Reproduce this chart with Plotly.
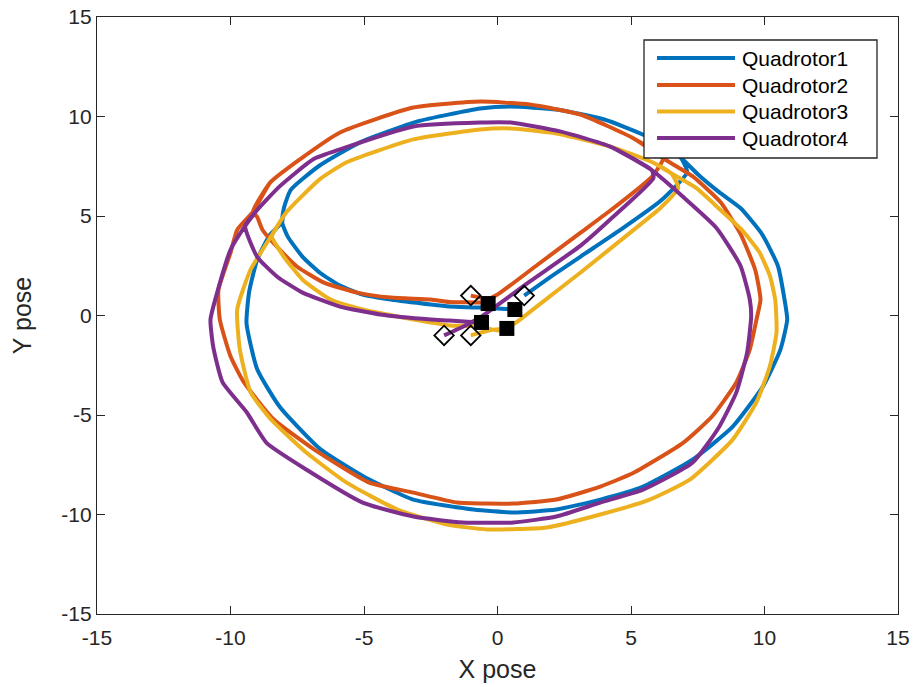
import plotly.graph_objects as go

# ---------------- data ----------------
NAMES = ["Quadrotor1", "Quadrotor2", "Quadrotor3", "Quadrotor4"]
COLORS = ["#0072BD", "#D95319", "#EDB120", "#7E2F8E"]

# Quadrotor1 (blue)
Q1_DIAG = [(1.0, 1.0), (2.0, 1.95), (3.1, 2.95), (4.6, 4.3), (6.1, 5.75), (7.1, 7.2)]
Q1_TOP = [(6.85, 7.95), (5.6, 9.0), (4.0, 9.85), (2.2, 10.35), (0.5, 10.5), (-0.65, 10.4),
          (-3.0, 9.75), (-5.15, 8.7), (-6.7, 7.5), (-7.75, 6.3), (-8.0, 5.4), (-8.07, 4.7)]
Q1_OUTER = [(-8.55, 4.0), (-9.0, 2.8), (-9.3, 1.2), (-9.4, -0.4), (-9.0, -2.7), (-8.15, -4.6),
            (-6.65, -6.7), (-5.0, -8.1), (-3.15, -9.25), (-0.9, -9.75), (0.6, -9.9), (2.2, -9.75),
            (3.85, -9.25), (5.45, -8.6), (7.3, -7.25), (8.8, -5.6), (9.95, -3.55), (10.6, -1.7),
            (10.85, -0.2), (10.75, 0.8), (10.5, 2.5), (9.9, 4.1), (9.1, 5.4), (8.3, 6.2), (7.5, 7.1)]
Q1_INNER = [(-7.85, 3.95), (-7.3, 2.95), (-6.65, 2.15), (-5.9, 1.5), (-5.05, 1.05), (-4.0, 0.8),
            (-2.5, 0.55), (-1.8, 0.45), (-0.65, 0.4), (0.65, 0.3)]

# Quadrotor2 (orange)
Q2_DIAG = [(-1.0, 1.0), (-0.35, 0.85), (0.0, 1.05), (1.5, 2.55), (3.1, 4.15), (4.2, 5.25),
           (5.6, 6.75), (5.8, 7.0)]
Q2_TOP = [(6.2, 7.9), (5.1, 8.9), (3.1, 10.1), (1.2, 10.6), (-0.65, 10.75), (-3.15, 10.45),
          (-5.9, 9.2), (-7.4, 7.85), (-8.5, 6.7), (-9.16, 5.2)]
Q2_OUTER = [(-9.75, 4.3), (-10.0, 3.15), (-10.45, 1.3), (-10.4, -0.2), (-10.0, -2.05), (-9.5, -3.35),
            (-8.4, -5.2), (-6.9, -6.7), (-4.8, -8.4), (-3.15, -8.9), (-1.5, -9.4), (0.6, -9.45),
            (2.2, -9.25), (3.85, -8.6), (5.1, -7.9), (6.95, -6.4), (8.05, -5.05), (8.95, -3.35),
            (9.45, -1.7), (9.7, -0.2), (9.85, 0.8), (9.65, 2.3), (9.1, 4.1), (8.35, 5.7), (7.3, 7.0)]
Q2_INNER = [(-9.0, 4.95), (-8.8, 4.3), (-8.15, 3.3), (-7.5, 2.45), (-6.5, 1.65), (-5.25, 1.15),
            (-4.0, 0.9), (-2.5, 0.8), (-1.8, 0.68), (-0.65, 0.65), (-0.35, 0.6)]

# Quadrotor3 (yellow)
Q3_DIAG = [(-1.0, -1.0), (-0.2, -0.72), (0.35, -0.65), (0.75, -0.3), (1.9, 0.9), (3.1, 2.15),
           (5.1, 4.3), (6.1, 5.4), (6.77, 6.42)]
Q3_TOP = [(6.5, 7.15), (5.8, 7.7), (4.2, 8.5), (2.2, 9.15), (0.5, 9.4), (-0.65, 9.35),
          (-3.15, 8.85), (-5.65, 7.7), (-6.65, 6.85), (-7.9, 5.2), (-8.4, 4.15)]
Q3_OUTER = [(-9.25, 2.3), (-9.75, 0.3), (-9.65, -1.7), (-9.25, -3.85), (-8.5, -5.2), (-7.15, -6.9),
            (-5.65, -8.4), (-3.75, -9.75), (-1.9, -10.5), (-0.4, -10.75), (1.85, -10.65),
            (3.85, -10.0), (5.7, -9.25), (7.2, -8.25), (8.8, -6.25), (9.7, -4.35), (10.2, -2.55),
            (10.45, -0.85), (10.4, 0.8), (10.2, 2.0), (9.8, 3.2), (9.15, 4.3), (8.33, 5.33), (7.45, 6.4)]
Q3_INNER = [(-8.45, 3.95), (-8.0, 2.95), (-7.3, 1.8), (-6.25, 0.8), (-5.05, 0.3), (-3.75, -0.05),
            (-2.5, -0.35), (-1.8, -0.5), (-0.65, -0.55), (0.0, -0.75), (0.35, -0.65)]

# Quadrotor4 (purple)
Q4_DIAG = [(-2.0, -1.0), (-1.2, -0.5), (-0.65, -0.1), (1.2, 1.7), (3.1, 3.5), (4.2, 4.8), (5.84, 6.9)]
Q4_TOP = [(5.78, 7.3), (4.2, 8.5), (2.34, 9.25), (0.5, 9.7), (-0.65, 9.7), (-3.15, 9.5),
          (-5.9, 8.35), (-6.9, 7.85), (-8.15, 6.5), (-9.0, 5.3), (-9.45, 4.5)]
Q4_OUTER = [(-10.0, 3.3), (-10.5, 1.15), (-10.75, -0.2), (-10.65, -1.55), (-10.3, -3.35),
            (-9.4, -4.85), (-8.65, -6.4), (-7.15, -7.75), (-5.05, -9.4), (-3.15, -10.1),
            (-1.3, -10.4), (0.6, -10.4), (2.2, -10.1), (3.85, -9.4), (5.45, -8.75), (7.3, -7.4),
            (8.3, -5.6), (8.95, -3.85), (9.35, -1.85), (9.5, -0.05), (9.45, 0.8), (9.1, 2.5),
            (8.2, 4.4), (7.0, 5.9)]
Q4_INNER = [(-9.0, 2.95), (-8.25, 1.95), (-7.3, 1.15), (-5.9, 0.45), (-4.4, 0.05), (-2.5, -0.2),
            (-1.8, -0.25), (-0.75, -0.35), (-0.6, -0.35)]

START_X = [1.0, -1.0, -1.0, -2.0]
START_Y = [1.0, 1.0, -1.0, -1.0]
END_X = [0.65, -0.35, 0.35, -0.6]
END_Y = [0.3, 0.6, -0.65, -0.35]

TICKS = [-15, -10, -5, 0, 5, 10, 15]
TICK_TEXT = ["-15", "-10", "-5", "0", "5", "10", "15"]

SEGMENTS = [
    (Q1_DIAG, Q1_TOP, Q1_OUTER, Q1_INNER),
    (Q2_DIAG, Q2_TOP, Q2_OUTER, Q2_INNER),
    (Q3_DIAG, Q3_TOP, Q3_OUTER, Q3_INNER),
    (Q4_DIAG, Q4_TOP, Q4_OUTER, Q4_INNER),
]

AX_COLOR = "#262626"
FONT = "Liberation Sans, Arial, Helvetica, sans-serif"

W, H = 913, 687
ML, MR, MT, MB = 97, 15, 17, 73
PW, PH = W - ML - MR, H - MT - MB


def px_x(px):
    return (px - ML) / PW


def px_y(py):
    return (H - MB - py) / PH


fig = go.Figure()
for name, color, (diag, top, outer, inner) in zip(NAMES, COLORS, SEGMENTS):
    path = diag + top + outer + top + inner
    fig.add_trace(go.Scatter(
        x=[p[0] for p in path], y=[p[1] for p in path], mode="lines", name=name,
        showlegend=False, line=dict(color=color, width=4, shape="spline", smoothing=0.5),
        hoverinfo="skip"))

fig.add_trace(go.Scatter(
    x=START_X, y=START_Y, mode="markers", showlegend=False,
    marker=dict(symbol="diamond-open", size=15, color="black", line=dict(width=1.8, color="black"))))
fig.add_trace(go.Scatter(
    x=END_X, y=END_Y, mode="markers", showlegend=False,
    marker=dict(symbol="square", size=15, color="black", line=dict(width=0))))

# legend box drawn as shapes + text (positions in pixels of the frame)
shapes = [dict(type="rect", xref="paper", yref="paper", layer="above",
               x0=px_x(644), x1=px_x(877), y0=px_y(158), y1=px_y(40),
               fillcolor="white", line=dict(color=AX_COLOR, width=1.3))]
annotations = []
ROW_Y = [58, 85, 111.5, 138]
for name, color, ry in zip(NAMES, COLORS, ROW_Y):
    shapes.append(dict(type="line", xref="paper", yref="paper", layer="above",
                       x0=px_x(657), x1=px_x(735), y0=px_y(ry), y1=px_y(ry),
                       line=dict(color=color, width=4)))
    annotations.append(dict(xref="paper", yref="paper", x=px_x(740), y=px_y(ry),
                            xanchor="left", yanchor="middle", showarrow=False, text=name,
                            font=dict(family=FONT, size=21, color="black")))

axis_common = dict(
    range=[-15, 15], tickvals=TICKS, ticktext=TICK_TEXT, showgrid=False, zeroline=False,
    showline=True, linecolor=AX_COLOR, linewidth=1.3, mirror="ticks", ticks="inside",
    ticklen=8, tickwidth=1.3, tickcolor=AX_COLOR, automargin=False,
    tickfont=dict(family=FONT, size=21, color=AX_COLOR),
)

fig.update_layout(
    width=W, height=H, autosize=False,
    margin=dict(l=ML, r=MR, t=MT, b=MB),
    paper_bgcolor="white", plot_bgcolor="white",
    font=dict(family=FONT, color=AX_COLOR),
    showlegend=False,
    xaxis=dict(**axis_common, ticklabelstandoff=5,
               title=dict(text="X pose", font=dict(family=FONT, size=25, color=AX_COLOR), standoff=12)),
    yaxis=dict(**axis_common,
               title=dict(text="Y pose", font=dict(family=FONT, size=25, color=AX_COLOR), standoff=22)),
    shapes=shapes,
    annotations=annotations,
)

fig.write_html("out.html")
